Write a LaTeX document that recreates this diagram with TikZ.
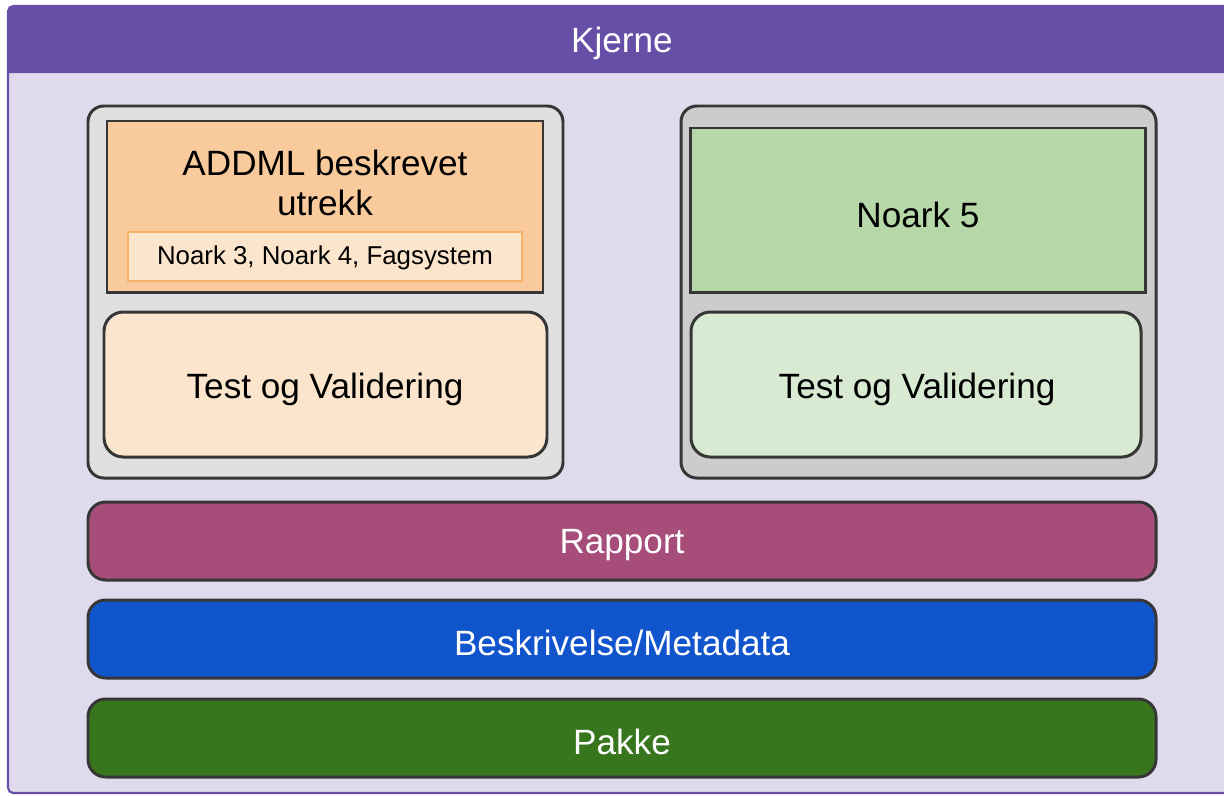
\documentclass[tikz,border=0pt]{standalone}
\usepackage{fontspec}
\setmainfont{Liberation Sans}

\definecolor{headpurple}{HTML}{674EA7}
\definecolor{bodylilac}{HTML}{DFDBEC}
\definecolor{edgegrey}{HTML}{363636}
\definecolor{holdlight}{HTML}{E0E0E0}
\definecolor{holddark}{HTML}{CCCCCC}
\definecolor{addmlfill}{HTML}{F9CB9C}
\definecolor{paleorange}{HTML}{FCE5CD}
\definecolor{lineorange}{HTML}{F6B26B}
\definecolor{noarkgreen}{HTML}{B6D7A8}
\definecolor{palegreen}{HTML}{D9EAD3}
\definecolor{rapportred}{HTML}{A64D79}
\definecolor{metablue}{HTML}{1155CC}
\definecolor{pakkegreen}{HTML}{38761D}

\tikzset{
  holder/.style={draw=edgegrey, line width=1.7pt, rounded corners=9pt},
  plainbox/.style={draw=edgegrey, line width=1.7pt},
  testbox/.style={draw=edgegrey, line width=1.7pt, rounded corners=11pt},
  layerbar/.style={draw=edgegrey, line width=1.7pt, rounded corners=10pt},
  bigtxt/.style={font=\fontsize{20}{22.8}\selectfont, align=center},
  smalltxt/.style={font=\fontsize{14.7}{17}\selectfont}
}

\begin{document}
\begin{tikzpicture}[x=0.02cm,y=-0.02cm]
		\useasboundingbox (0,0) rectangle (1224,795);
		\clip (0,0) rectangle (1224,795);

		% kjerne frame
		\draw[headpurple, fill=bodylilac, line width=1.2pt, rounded corners=3pt] (8,6) rectangle (1260,793);
		\fill[headpurple] (8,73) [rounded corners=3pt] -- (8,6) -- (1260,6) [sharp corners] -- (1260,73) -- cycle;
		\node[bigtxt, text=white] (kjerne) at (622,43) {Kjerne};

		% left part
		\draw[holder, fill=holdlight] (88,106) rectangle (563,478);
		\draw[plainbox, fill=addmlfill] (107,121) rectangle (543,292);
		\node[bigtxt] (addml) at (325,183) {ADDML beskrevet\\utrekk};
		\draw[lineorange, fill=paleorange, line width=1.6pt] (128,232) rectangle (522,281);
		\node[smalltxt] (eldre) at (325,258) {Noark 3, Noark 4, Fagsystem};
		\draw[testbox, fill=paleorange] (104,312) rectangle (547,457);
		\node[bigtxt] (testvenstre) at (325,389) {Test og Validering};

		% right part
		\draw[holder, fill=holddark] (681,106) rectangle (1156,478);
		\draw[plainbox, fill=noarkgreen] (690,128) rectangle (1145,292);
		\node[bigtxt] (noarkfem) at (918,215) {Noark 5};
		\draw[testbox, fill=palegreen] (691,312) rectangle (1141,457);
		\node[bigtxt] (testhoyre) at (917,389) {Test og Validering};

		% layers
		\draw[layerbar, fill=rapportred] (88,502) rectangle (1156,580);
		\node[bigtxt, text=white] (rapport) at (622,545) {Rapport};
		\draw[layerbar, fill=metablue] (88,600) rectangle (1156,678);
		\node[bigtxt, text=white] (metadata) at (622,643) {Beskrivelse/Metadata};
		\draw[layerbar, fill=pakkegreen] (88,699) rectangle (1156,777);
		\node[bigtxt, text=white] (pakke) at (622,742) {Pakke};

\end{tikzpicture}
\end{document}
